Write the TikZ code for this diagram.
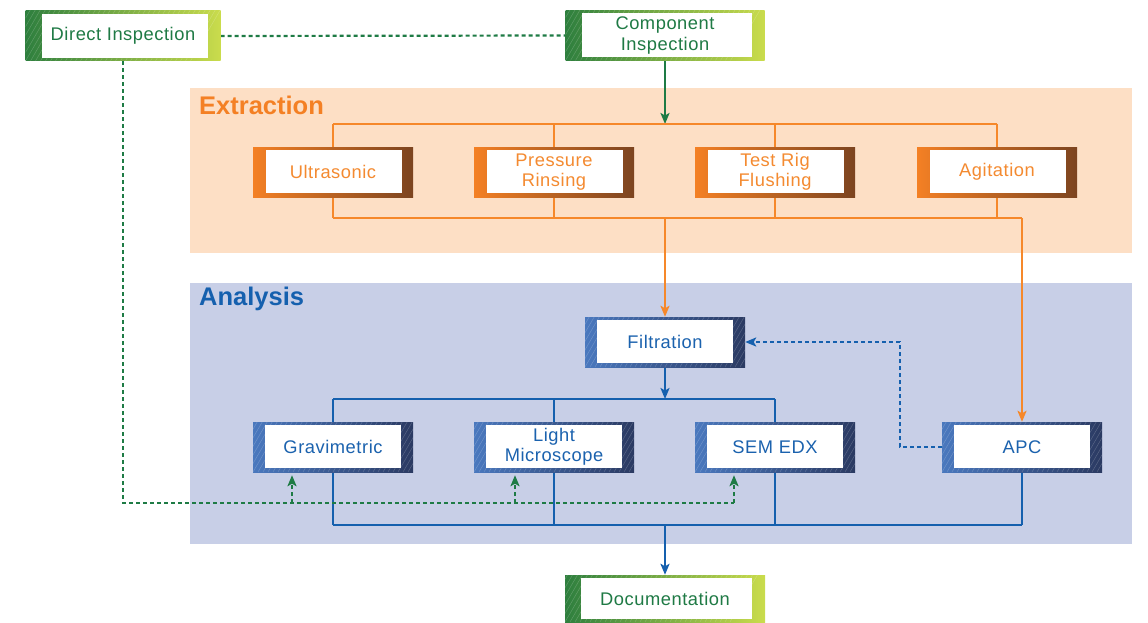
\documentclass[tikz,border=0pt]{standalone}
\usepackage{fontspec}
\setmainfont{Liberation Sans}
\newfontfamily\boxfam[LetterSpace=3]{Liberation Sans}
\usetikzlibrary{arrows.meta}
\pgfdeclarelayer{bands}\pgfdeclarelayer{lines}
\pgfsetlayers{bands,lines,main}
\definecolor{gdark}{HTML}{2E7F3E}
\definecolor{glight}{HTML}{CADC4C}
\definecolor{gtext}{HTML}{1F7A45}
\definecolor{oleft}{HTML}{F48024}
\definecolor{oright}{HTML}{7C4420}
\definecolor{otext}{HTML}{F48A30}
\definecolor{bleft}{HTML}{4A78BE}
\definecolor{bright}{HTML}{2B3A62}
\definecolor{btext}{HTML}{1B62AE}
\definecolor{oline}{HTML}{F6882A}
\definecolor{bline}{HTML}{1560AE}
\definecolor{gline}{HTML}{1E7B45}
\definecolor{peach}{HTML}{FDDFC5}
\definecolor{lav}{HTML}{C8CFE7}
\tikzset{
  frame/.style n args={5}{path picture={
    \ifnum#5=1
    \foreach \k in {0,...,45}
      \draw[white,opacity=.2,line width=.5pt]
        ([xshift=\k*5pt-60pt]path picture bounding box.south west) -- ++(35pt,60pt);
    \fi
    \fill[white] ([xshift=#1,yshift=#4]path picture bounding box.south west)
      rectangle ([xshift=-#2,yshift=-#3]path picture bounding box.north east);}},
  boxbase/.style={minimum width=160pt, minimum height=50pt, inner sep=0pt,
    align=center, font=\boxfam\fontsize{18.3}{20.5}\selectfont},
  gbox/.style={boxbase, left color=gdark, right color=glight, text=gtext,
    frame={16pt}{13pt}{3pt}{3pt}{1}},
  obox/.style={boxbase, left color=oleft, right color=oright, text=otext,
    frame={13pt}{11pt}{3pt}{4pt}{0}},
  bbox/.style={boxbase, left color=bleft, right color=bright, text=btext,
    frame={12pt}{12pt}{3pt}{4pt}{1}},
  tip/.style={-{Stealth[length=11pt,width=9pt,inset=2.5pt]}},
  oln/.style={draw=oline, line width=2.2pt},
  bln/.style={draw=bline, line width=2.2pt},
  gln/.style={draw=gline, line width=2.2pt},
  gdsh/.style={draw=gline, line width=2.2pt, dash pattern=on 4pt off 3pt},
  bdsh/.style={draw=bline, line width=2.2pt, dash pattern=on 4pt off 3pt},
  band label/.style={font=\bfseries\fontsize{25.5}{30}\selectfont, anchor=west, inner sep=0pt}
}
\begin{document}
\begin{tikzpicture}[x=1pt,y=-1pt]
\useasboundingbox (0,0) rectangle (1148,623);
\begin{pgfonlayer}{bands}
  \fill[peach] (190,88) rectangle (1132,253);
  \fill[lav] (190,283) rectangle (1132,544);
\end{pgfonlayer}
\node[band label, text=oleft] (extl) at (199,105) {Extraction};
\node[band label, text=bline] (anal) at (199,299) {Analysis};
% green boxes
\node[gbox, minimum width=195pt] (direct) at (123,36) {Direct Inspection};
\node[gbox, minimum width=199pt] (comp) at (665,35.5) {Component\\Inspection};
\node[gbox, minimum width=200pt, minimum height=47pt] (doc) at (665,598.5) {Documentation};
% orange boxes
\node[obox] (ultra) at (333,172) {Ultrasonic};
\node[obox] (press) at (554,172) {Pressure\\Rinsing};
\node[obox] (test) at (775,172) {Test Rig\\Flushing};
\node[obox] (agit) at (997,172) {Agitation};
% blue boxes
\node[bbox] (filt) at (665,342) {Filtration};
\node[bbox] (grav) at (333,447) {Gravimetric};
\node[bbox] (light) at (554,447) {Light\\Microscope};
\node[bbox] (sem) at (775,447) {SEM EDX};
\node[bbox] (apc) at (1022,447) {APC};
% bus coordinates
\coordinate (tb) at (0,124);
\coordinate (bb) at (0,218);
\coordinate (ab) at (0,399);
\coordinate (cb) at (0,525);
\coordinate (gd) at (0,503);
\coordinate (ga) at ([xshift=-41pt]grav.south);
\coordinate (la) at ([xshift=-39pt]light.south);
\coordinate (sa) at ([xshift=-41pt]sem.south);
\begin{pgfonlayer}{lines}
  % extraction
  \draw[gln, tip] (comp.south) -- (comp.south |- tb);
  \draw[oln] (ultra.north |- tb) -- (agit.north |- tb);
  \foreach \n in {ultra,press,test,agit} \draw[oln] (\n.north |- tb) -- (\n.north);
  \foreach \n in {ultra,press,test,agit} \draw[oln] (\n.south) -- (\n.south |- bb);
  \draw[oln] (ultra.south |- bb) -- (apc.north |- bb);
  \draw[oln, tip] (filt.north |- bb) -- (filt.north);
  \draw[oln, tip] (apc.north |- bb) -- (apc.north);
  % analysis
  \draw[bln, tip] (filt.south) -- (filt.south |- ab);
  \draw[bln] (grav.north |- ab) -- (sem.north |- ab);
  \foreach \n in {grav,light,sem} \draw[bln] (\n.north |- ab) -- (\n.north);
  \foreach \n in {grav,light,sem,apc} \draw[bln] (\n.south) -- (\n.south |- cb);
  \draw[bln] (grav.south |- cb) -- (apc.south |- cb);
  \draw[bln, tip] (doc.north |- cb) -- (doc.north);
  \draw[bdsh, tip] (apc.west) -- ++(-42,0) |- (filt.east);
  % direct inspection
  \draw[gdsh] (direct.east) -- (comp.west);
  \draw[gdsh] (direct.south) -- (direct.south |- gd) -- (sa |- gd);
  \draw[gdsh, tip] (ga |- gd) -- ([yshift=-3pt]ga);
  \draw[gdsh, tip] (la |- gd) -- ([yshift=-3pt]la);
  \draw[gdsh, tip] (sa |- gd) -- ([yshift=-3pt]sa);
\end{pgfonlayer}
\end{tikzpicture}
\end{document}
